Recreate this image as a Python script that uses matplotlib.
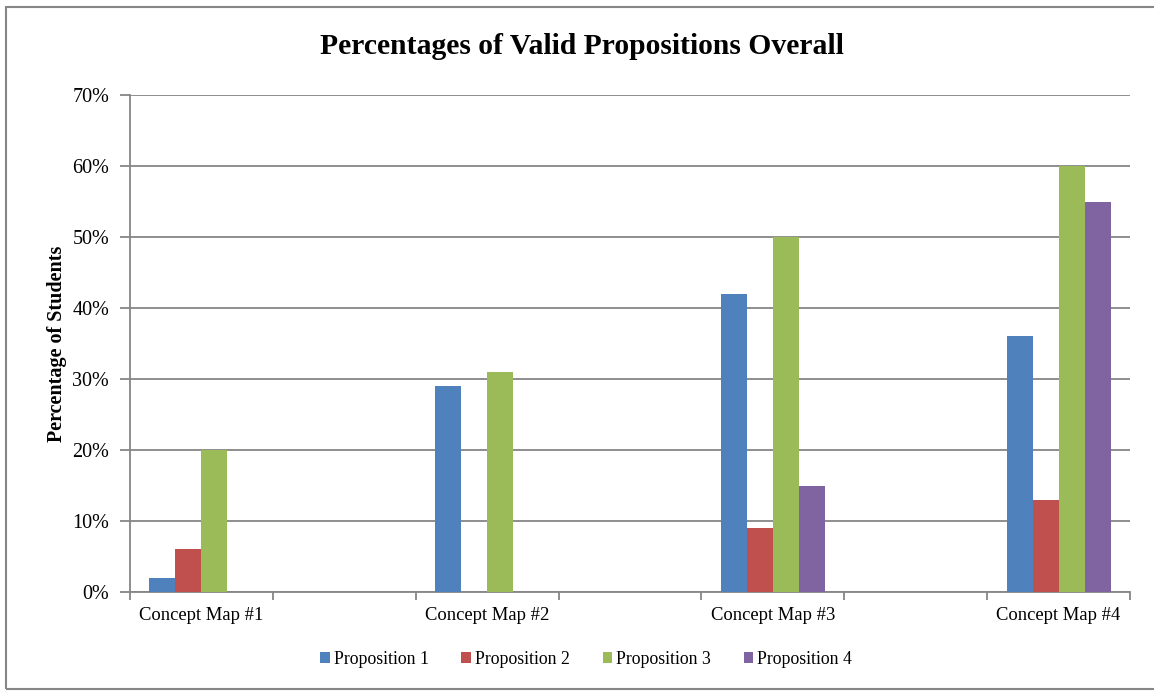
import numpy as np
import matplotlib.pyplot as plt
from matplotlib.patches import Rectangle

plt.rcParams['font.family'] = ['Liberation Serif', 'DejaVu Serif']

# categories (Excel-style spacing: blank slots between maps)
categories = ["Concept Map #1", "", "Concept Map #2", "", "Concept Map #3", "", "Concept Map #4"]
series_names = ["Proposition 1", "Proposition 2", "Proposition 3", "Proposition 4"]
prop1 = [2, 0, 29, 0, 42, 0, 36]
prop2 = [6, 0, 0, 0, 9, 0, 13]
prop3 = [20, 0, 31, 0, 50, 0, 60]
prop4 = [0, 0, 0, 0, 15, 0, 55]
colors = ["#4F81BD", "#C0504D", "#9BBB59", "#8064A2"]
ytick_vals = [0, 10, 20, 30, 40, 50, 60, 70]

fig = plt.figure(figsize=(11.54, 6.91), dpi=100)
ax = fig.add_axes([130/1154, 1 - 592/691, 1000/1154, 497/691])

x = np.arange(len(categories))
bar_w = 0.182
for i, (vals, name, c) in enumerate(zip([prop1, prop2, prop3, prop4], series_names, colors)):
    ax.bar(x + (i - 1.5) * bar_w, vals, width=bar_w, color=c, label=name, zorder=3)

ax.set_xlim(-0.5, len(categories) - 0.5)
ax.set_ylim(0, 70)
ax.set_yticks(ytick_vals)
ax.set_yticklabels([f"{v}%" for v in ytick_vals], fontsize=14.5)
ax.yaxis.grid(True, color="#868686", linewidth=1.3, zorder=0)
ax.set_xticks(x)
ax.set_xticklabels(categories, fontsize=13.4)
ax.tick_params(axis='x', length=0, pad=11)
ax.set_xticks(np.arange(-0.5, len(categories), 1.0), minor=True)
ax.tick_params(axis='x', which='minor', length=6, color="#868686", width=1.3)
ax.tick_params(axis='y', length=7, color="#868686", width=1.3, pad=8)

for s in ["top", "right"]:
    ax.spines[s].set_visible(False)
for s in ["left", "bottom"]:
    ax.spines[s].set_color("#868686")
    ax.spines[s].set_linewidth(1.3)

ax.set_ylabel("Percentage of Students", fontsize=14.5, fontweight='bold', labelpad=4)
fig.text(582/1154, 1 - 47/691, "Percentages of Valid Propositions Overall",
         fontsize=21.3, fontweight='bold', ha='center', va='center')

fig.legend(loc='center', bbox_to_anchor=(586/1154, 1 - 659/691), ncol=4, frameon=False,
           fontsize=12.8, handlelength=0.55, handleheight=0.55, handletextpad=0.2,
           columnspacing=1.85)

fig.patches.append(Rectangle((6/1154, 1 - 689/691), 1160/1154, 682/691,
                             transform=fig.transFigure, fill=False,
                             edgecolor="#868686", linewidth=1.5))

fig.savefig("out.png", dpi=100)
